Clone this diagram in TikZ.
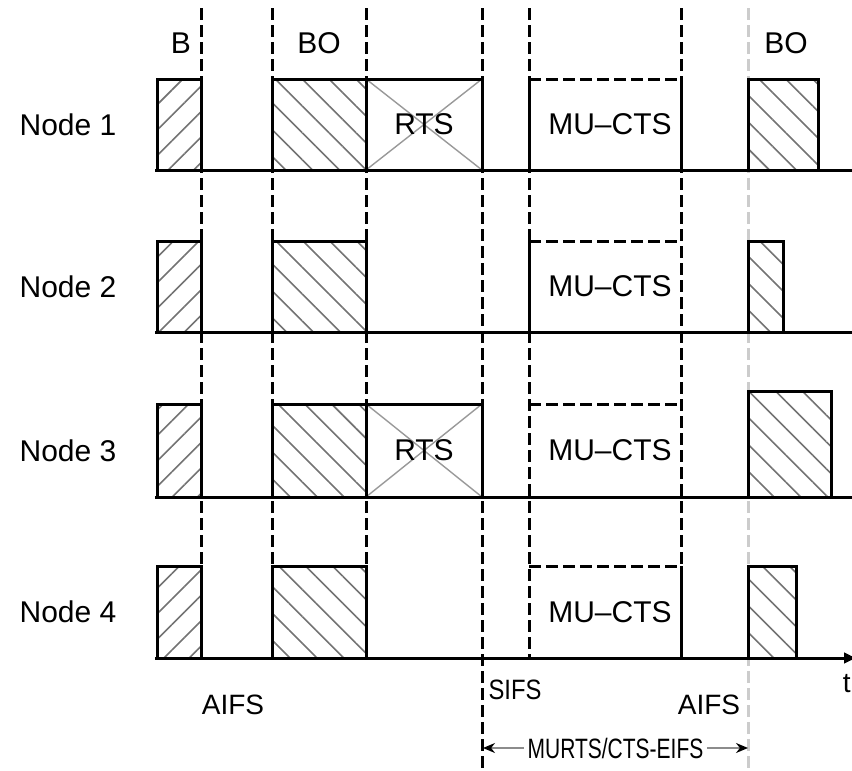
\documentclass[tikz,border=0pt]{standalone}
\usepackage{fontspec}
\usepackage{graphicx}
\setmainfont{Liberation Sans}
\usetikzlibrary{patterns.meta,arrows.meta}

\begin{document}
\begin{tikzpicture}[
        x=0.5pt, y=-0.5pt,
        baseline/.style={line width=1.5pt},
        guide/.style={line width=1.5pt, dash pattern=on 6pt off 2.5pt},
        lightguide/.style={guide, draw=black!20},
        slot/.style={line width=1.5pt},
        fwdhatch/.style={slot, pattern={Lines[angle=45,distance=9pt,line width=0.8pt]}, pattern color=black!55},
        bckhatch/.style={slot, pattern={Lines[angle=-45,distance=9.5pt,line width=0.8pt]}, pattern color=black!55},
        lbl/.style={font=\fontsize{15}{18}\selectfont, inner sep=0pt},
        small/.style={font=\fontsize{14}{16}\selectfont, inner sep=0pt}
    ]
    \useasboundingbox (0,0) rectangle (852,771);

    % slot boundaries
    \foreach \x in {201,272,366,529,681} {
        \draw[guide] (\x,8) -- (\x,658);
    }
    \draw[guide] (482,8) -- (482,771);
    \draw[lightguide] (748,8) -- (748,771);

    % one row per station
    \foreach \r/\b/\t in {1/170/79, 2/332/241, 3/497/404, 4/658/566} {
        \node[lbl] (node\r) at (68, {(\b+\t)/2}) {Node \r};
        \draw[fwdhatch] (157,\b) rectangle (201,\t);
        \draw[bckhatch] (272,\b) rectangle (366,\t);
        \draw[guide] (529,\t) -- (681,\t);
        \node[lbl] (cts\r) at (610, {(\b+\t)/2}) {MU--CTS};
    }
    \draw[bckhatch] (748,170) rectangle (818,79);
    \draw[bckhatch] (748,332) rectangle (783,241);
    \draw[bckhatch] (748,497) rectangle (831,391);
    \draw[bckhatch] (748,658) rectangle (796,566);

    % collided RTS frames
    \foreach \r/\b/\t in {1/170/79, 3/497/404} {
        \draw[black!40, line width=0.7pt] (366,\b) -- (482,\t) (366,\t) -- (482,\b);
        \draw[slot] (366,\b) rectangle (482,\t);
        \node[lbl] (rts\r) at (424, {(\b+\t)/2}) {RTS};
    }

    % solid MU-CTS edges
    \draw[slot] (529,170) -- (529,79) (681,79) -- (681,170);
    \draw[slot] (529,332) -- (529,241);
    \draw[slot] (681,566) -- (681,658);

    % time lines
    \foreach \b in {170,332,497} {
        \draw[baseline] (155,\b) -- (852,\b);
    }
    \draw[baseline, -{Latex[length=7pt,width=6pt]}] (155,658) -- (858,658);
    \node[small, anchor=east] (time) at (851,684) {t};

    % top labels
    \node[lbl] (lblB) at (181,43) {B};
    \node[lbl] (lblBO) at (319,43) {BO};
    \node[lbl] (lblBOr) at (786,43) {BO};

    % bottom labels
    \node[small] (aifsL) at (233,705) {AIFS};
    \node[small] (sifs) at (515,690) {\scalebox{0.85}[1]{SIFS}};
    \node[small] (aifsR) at (709,705) {AIFS};

    \coordinate (eifsL) at (483,748);
    \coordinate (eifsR) at (748,748);
    \draw[black!45, line width=0.7pt, {Stealth[black,length=6pt,width=5pt]}-{Stealth[black,length=6pt,width=5pt]}]
        (eifsL) -- (eifsR) node[midway, fill=white, text=black, small, inner xsep=2pt] (eifs) {\scalebox{0.75}[1]{MURTS/CTS-EIFS}};

\end{tikzpicture}
\end{document}
